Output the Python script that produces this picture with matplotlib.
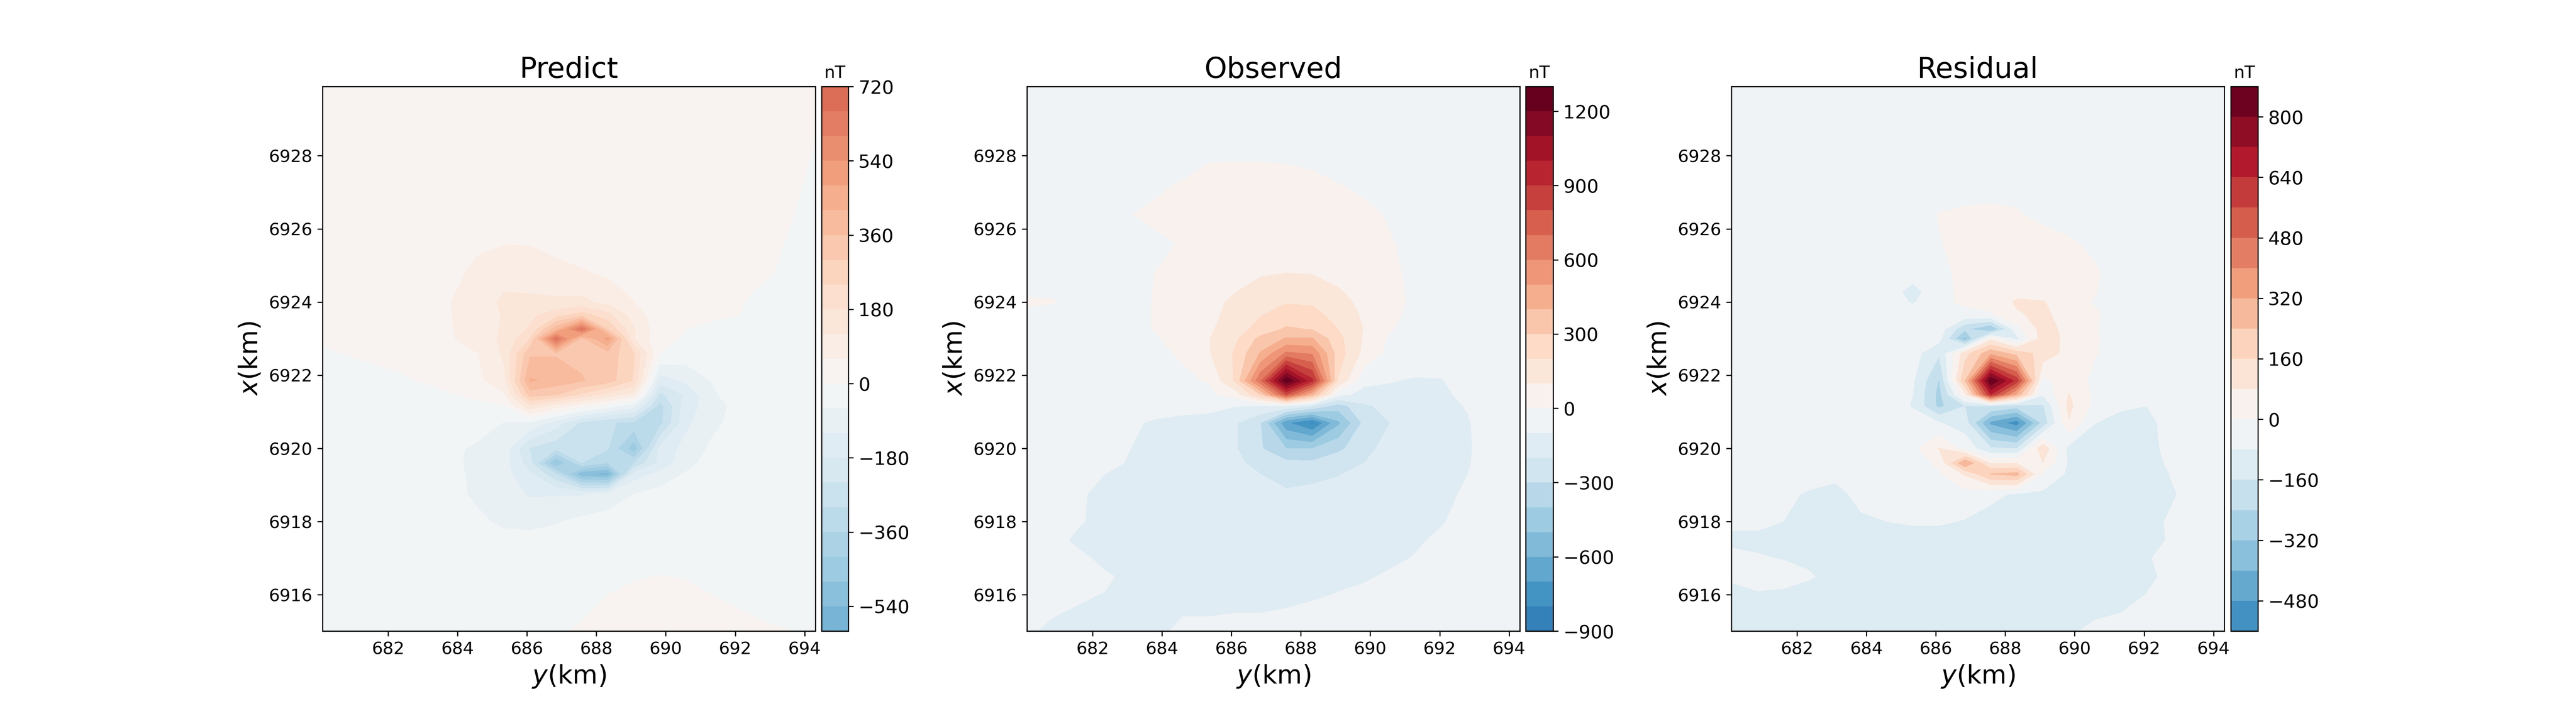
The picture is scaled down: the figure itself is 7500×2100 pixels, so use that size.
import matplotlib
matplotlib.use("Agg")
import matplotlib.pyplot as plt
import numpy as np

# survey grid, km
y_km = [680.11, 680.86, 681.60, 682.35, 683.10, 683.85, 684.59, 685.34, 686.09, 686.84,
        687.58, 688.33, 689.08, 689.83, 690.57, 691.32, 692.07, 692.82, 693.56, 694.31]
x_km = [6915.01, 6916.0, 6916.5, 6917.0, 6917.5, 6918.0, 6918.75, 6919.3, 6919.6, 6920.0, 6920.7, 6921.16,
        6921.47, 6921.85, 6922.6, 6923.0, 6923.26, 6923.65, 6924.0, 6924.27, 6924.8, 6925.6,
        6926.4, 6927.2, 6928.0, 6929.0, 6929.89]

# one row per x_km value (nT)
predict = [
    [-15, -15, -15, -15, -15, -15, -12, -10, -8, -3, 3, 8, 12, 15, 12, 10, 8, 3, 0.5, -5],
    [-20, -20, -20, -20, -20, -20, -20, -20, -18, -15, -8, 0, 8, 12, 8, 0, -5, -8, -12, -15],
    [-22, -22, -22, -22, -22, -22, -22, -22, -20, -18, -15, -8, -3, 1, -2, -8, -12, -15, -18, -18],
    [-25, -25, -25, -25, -25, -25, -25, -25, -25, -22, -18, -15, -14, -12, -14, -16, -18, -20, -20, -20],
    [-22, -22, -22, -22, -22, -24, -26, -35, -38, -32, -25, -22, -22, -22, -22, -22, -22, -22, -22, -22],
    [-22, -22, -22, -22, -25, -30, -45, -75, -80, -65, -45, -32, -25, -22, -20, -20, -20, -20, -20, -20],
    [-22, -22, -22, -22, -28, -40, -75, -95, -125, -125, -125, -100, -60, -35, -28, -22, -20, -20, -20, -20],
    [-22, -22, -22, -22, -25, -45, -75, -100, -170, -290, -530, -560, -150, -105, -55, -25, -20, -20, -20, -20],
    [-22, -22, -22, -22, -28, -50, -75, -95, -215, -490, -300, -360, -300, -160, -85, -30, -22, -20, -20, -20],
    [-20, -20, -20, -20, -25, -50, -70, -90, -245, -280, -290, -295, -460, -165, -100, -50, -25, -20, -20, -20],
    [-20, -20, -20, -20, -20, -24, -35, -62, -70, -150, -250, -295, -310, -320, -135, -75, -40, -22, -20, -20],
    [-20, -20, -20, -20, -15, -10, -8, -8, 165, 90, 25, -30, -95, -325, -150, -90, -40, -22, -20, -20],
    [-30, -25, -20, -15, -10, -2, 10, 50, 330, 305, 230, 160, 105, -255, -170, -70, -30, -20, -18, -15],
    [-25, -20, -12, -5, 3, 18, 45, 105, 430, 395, 365, 330, 235, -155, -110, -58, -30, -20, -18, -15],
    [-5, 2, 8, 12, 20, 45, 60, 130, 350, 355, 345, 340, 245, 0, -25, -22, -20, -20, -18, -15],
    [5, 8, 10, 12, 22, 56, 95, 130, 240, 680, 345, 500, 125, 13, -5, -15, -20, -18, -18, -15],
    [8, 10, 10, 15, 25, 58, 100, 125, 190, 400, 680, 300, 125, 20, 0, -10, -15, -15, -15, -15],
    [10, 12, 12, 12, 22, 60, 90, 125, 165, 215, 270, 200, 90, 25, 10, 8, 1, -12, -15, -15],
    [12, 12, 12, 12, 25, 62, 95, 130, 135, 130, 135, 100, 60, 30, 20, 10, 3, -8, -15, -20],
    [12, 12, 12, 12, 23, 56, 88, 120, 118, 112, 112, 83, 48, 26, 18, 12, 5, -4, -12, -17],
    [12, 12, 12, 12, 20, 45, 75, 100, 85, 75, 65, 50, 25, 18, 15, 15, 10, 4, -6, -12],
    [12, 12, 12, 12, 15, 28, 50, 58, 58, 45, 35, 25, 18, 15, 12, 12, 10, 8, -2, -10],
    [12, 12, 12, 12, 12, 12, 12, 12, 12, 12, 12, 12, 12, 12, 12, 12, 10, 8, 2, -8],
    [12, 12, 12, 12, 12, 12, 12, 12, 12, 12, 12, 12, 12, 12, 12, 12, 12, 12, 5, -5],
    [12, 12, 12, 12, 12, 12, 12, 12, 12, 12, 12, 12, 12, 12, 12, 12, 12, 12, 10, -2],
    [12, 12, 12, 12, 12, 12, 12, 12, 12, 12, 12, 12, 12, 12, 12, 12, 12, 12, 12, 2],
    [12, 12, 12, 12, 12, 12, 12, 12, 12, 12, 12, 12, 12, 12, 12, 12, 12, 12, 12, 4],
]

observed = [
    [-90, -115, -108, -115, -105, -110, -90, -90, -85, -85, -80, -60, -50, -45, -42, -40, -40, -40, -40, -40],
    [-40, -75, -97, -101, -110, -115, -115, -115, -115, -115, -112, -108, -97, -85, -60, -48, -42, -40, -40, -40],
    [-40, -45, -70, -95, -108, -118, -120, -120, -120, -120, -120, -118, -115, -108, -90, -65, -48, -42, -40, -40],
    [-40, -60, -90, -110, -112, -120, -125, -125, -125, -125, -125, -125, -125, -120, -115, -95, -60, -42, -40, -40],
    [-45, -85, -110, -115, -118, -125, -128, -130, -130, -132, -135, -135, -135, -130, -125, -110, -85, -55, -42, -40],
    [-40, -50, -95, -115, -125, -130, -130, -135, -140, -145, -150, -150, -145, -135, -130, -120, -105, -70, -45, -40],
    [-40, -45, -95, -110, -125, -130, -135, -145, -160, -170, -190, -170, -165, -150, -140, -130, -115, -90, -60, -40],
    [-40, -45, -70, -100, -110, -118, -125, -135, -160, -200, -225, -230, -205, -170, -145, -130, -120, -100, -60, -40],
    [-40, -45, -55, -85, -105, -118, -125, -132, -170, -240, -275, -280, -240, -200, -150, -130, -118, -105, -55, -40],
    [-40, -45, -50, -70, -100, -115, -125, -130, -190, -290, -400, -400, -320, -240, -150, -130, -115, -110, -50, -40],
    [-45, -45, -45, -60, -85, -115, -125, -140, -185, -300, -680, -815, -520, -270, -200, -130, -120, -105, -55, -40],
    [-40, -40, -40, -40, -40, -55, -70, -70, -95, -105, -105, -200, -350, -215, -170, -140, -120, -95, -60, -40],
    [-35, -35, -35, -35, -35, -30, -30, -20, 40, 300, 800, 410, -60, -140, -125, -125, -120, -70, -45, -40],
    [-35, -35, -35, -35, -35, -35, -15, 5, 210, 690, 1300, 930, 190, -70, -95, -110, -105, -45, -40, -40],
    [-35, -35, -35, -35, -35, -15, 10, 90, 210, 410, 620, 590, 250, 70, -30, -40, -40, -40, -40, -40],
    [-35, -35, -35, -35, -25, -5, 25, 95, 180, 330, 410, 410, 230, 85, -15, -35, -40, -40, -40, -40],
    [-35, -35, -35, -35, -20, 5, 40, 85, 150, 240, 315, 295, 200, 95, 5, -25, -40, -40, -40, -40],
    [-10, -15, -30, -30, -20, 5, 40, 75, 130, 195, 240, 235, 160, 85, 15, -20, -40, -40, -40, -40],
    [5, 3, -15, -30, -20, 5, 45, 75, 115, 160, 195, 185, 130, 75, 30, -20, -40, -40, -40, -40],
    [-5, -6, -22, -32, -20, 4, 37, 63, 98, 137, 163, 155, 110, 63, 27, -22, -40, -40, -40, -40],
    [-25, -25, -35, -35, -20, 2, 20, 40, 65, 90, 100, 95, 70, 40, 20, -25, -40, -40, -40, -40],
    [-40, -40, -40, -40, -25, -15, 5, 30, 50, 65, 70, 65, 50, 25, 5, -20, -40, -40, -40, -40],
    [-40, -40, -40, -30, -2, 20, 20, 30, 40, 45, 45, 40, 30, 18, -8, -30, -40, -40, -40, -40],
    [-40, -40, -40, -40, -30, -15, 8, 15, 20, 20, 20, 15, 2, -15, -40, -40, -40, -40, -40, -40],
    [-40, -40, -40, -40, -40, -40, -40, -5, -5, -5, -8, -15, -30, -40, -40, -40, -40, -40, -40, -40],
    [-40, -40, -40, -40, -40, -40, -40, -40, -40, -40, -40, -40, -40, -40, -40, -40, -40, -40, -40, -40],
    [-40, -40, -40, -40, -40, -40, -40, -40, -40, -40, -40, -40, -40, -40, -40, -40, -40, -40, -40, -40],
]

residual = [
    [-100, -110, -110, -110, -110, -110, -110, -110, -110, -110, -110, -110, -105, -90, -65, -50, -45, -42, -40, -40],
    [-90, -85, -90, -100, -110, -115, -115, -115, -115, -115, -115, -115, -115, -115, -115, -110, -78, -55, -45, -40],
    [-75, -60, -60, -75, -95, -115, -115, -115, -115, -115, -115, -115, -115, -115, -115, -112, -95, -60, -45, -40],
    [-70, -76, -82, -90, -100, -110, -115, -115, -115, -115, -115, -115, -115, -115, -115, -105, -85, -60, -45, -40],
    [-88, -90, -90, -100, -100, -100, -105, -115, -115, -115, -115, -115, -115, -115, -115, -115, -105, -70, -45, -40],
    [-72, -70, -80, -90, -100, -85, -80, -70, -70, -85, -95, -100, -105, -105, -105, -105, -100, -70, -50, -40],
    [-50, -50, -70, -85, -90, -70, -50, -40, -40, -30, -70, -85, -95, -105, -110, -110, -110, -85, -55, -40],
    [-50, -45, -45, -60, -72, -50, -35, -25, -5, 90, 245, 270, -10, -95, -115, -115, -115, -75, -50, -40],
    [-40, -40, -40, -45, -50, -40, -30, -25, 10, 325, 75, 80, 80, -90, -110, -115, -110, -65, -45, -40],
    [-40, -40, -40, -40, -40, -40, -30, -20, 85, -25, -150, -160, 140, -100, -110, -115, -100, -60, -45, -40],
    [-40, -40, -40, -40, -40, -40, -42, -50, -75, -120, -420, -520, -215, 75, -78, -100, -100, -50, -42, -40],
    [-40, -40, -40, -40, -40, -40, -45, -85, -260, -160, -160, -200, -170, 100, -20, -70, -80, -50, -42, -40],
    [-40, -40, -40, -40, -40, -40, -50, -80, -265, 50, 640, 300, -70, 85, -15, -40, -40, -40, -40, -40],
    [-40, -40, -40, -40, -40, -40, -35, -70, -245, 240, 880, 610, -20, 40, -15, -40, -40, -40, -40, -40],
    [-40, -40, -40, -40, -40, -40, -40, -45, -150, 130, 300, 210, 130, 50, 5, -30, -40, -40, -40, -40],
    [-40, -40, -40, -40, -40, -40, -40, -40, -50, -345, 60, -100, 120, 60, 8, -30, -40, -40, -40, -40],
    [-40, -40, -40, -40, -40, -40, -40, -40, -35, -225, -325, -30, 115, 55, 5, -30, -40, -40, -40, -40],
    [-40, -40, -40, -40, -40, -40, -40, -35, -30, -30, -10, 70, 100, 40, 10, -30, -40, -40, -40, -40],
    [-40, -40, -40, -40, -40, -40, -40, -87, -20, 15, 30, 90, 85, 40, -5, -35, -40, -40, -40, -40],
    [-40, -40, -40, -40, -40, -40, -40, -110, -25, 18, 28, 60, 50, 35, 5, -35, -40, -40, -40, -40],
    [-40, -40, -40, -40, -40, -40, -40, -40, -15, 15, 25, 30, 25, 20, 10, -35, -40, -40, -40, -40],
    [-40, -40, -40, -40, -40, -40, -40, -40, -2, 12, 25, 30, 25, 10, -15, -30, -40, -40, -40, -40],
    [-40, -40, -40, -40, -40, -40, -40, -25, 2, 8, 10, 5, -15, -30, -40, -40, -40, -40, -40, -40],
    [-40, -40, -40, -40, -40, -40, -40, -40, -40, -20, -18, -18, -40, -40, -40, -40, -40, -40, -40, -40],
    [-40, -40, -40, -40, -40, -40, -40, -40, -40, -40, -40, -40, -40, -40, -40, -40, -40, -40, -40, -40],
    [-40, -40, -40, -40, -40, -40, -40, -40, -40, -40, -40, -40, -40, -40, -40, -40, -40, -40, -40, -40],
    [-40, -40, -40, -40, -40, -40, -40, -40, -40, -40, -40, -40, -40, -40, -40, -40, -40, -40, -40, -40],
]

titles = ["Predict", "Observed", "Residual"]
grids = [predict, observed, residual]
levels = [np.arange(-600, 721, 60), np.arange(-900, 1301, 100), np.arange(-560, 881, 80)]
limits = [1230, 1250, 860]
cbar_ticks = [np.arange(-540, 721, 180), np.arange(-900, 1201, 300), np.arange(-480, 801, 160)]

# pixel boxes measured on the 7500x2100 reference
W, H = 7500, 2100
ax_left = [939, 2990, 5041]
cax_left = [2392, 4442, 6495]
cax_right = [2470, 4522, 6574]
ax_width = 1435
top, bottom = 252, 1838

fig = plt.figure(figsize=(25, 7), dpi=300)
for i in range(3):
    ax = fig.add_axes([ax_left[i] / W, 1 - bottom / H, ax_width / W, (bottom - top) / H])
    cax = fig.add_axes([cax_left[i] / W, 1 - bottom / H, (cax_right[i] - cax_left[i]) / W, (bottom - top) / H])
    cf = ax.contourf(y_km, x_km, np.array(grids[i]), levels=levels[i],
                     cmap="RdBu_r", vmin=-limits[i], vmax=limits[i])
    ax.set_xlim(680.11, 694.31)
    ax.set_ylim(6915.01, 6929.89)
    ax.set_xticks(np.arange(682, 695, 2))
    ax.set_yticks(np.arange(6916, 6929, 2))
    ax.ticklabel_format(useOffset=False, style="plain")
    ax.tick_params(labelsize=12)
    ax.set_xlabel(r"$y$(km)", fontsize=18)
    ax.set_ylabel(r"$x$(km)", fontsize=18)
    ax.set_title(titles[i], fontsize=20)
    cb = fig.colorbar(cf, cax=cax, ticks=cbar_ticks[i])
    cb.ax.tick_params(labelsize=13)
    cax.set_title("nT", fontsize=12)

fig.savefig("out.png", dpi=300)
plt.close(fig)
